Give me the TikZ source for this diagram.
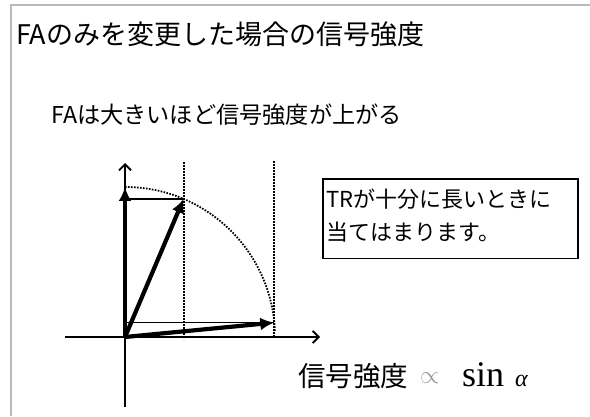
\documentclass[tikz,border=0pt]{standalone}
\usepackage{fontspec}
\setmainfont{Noto Sans CJK JP}
\newfontfamily\serifsin{Liberation Serif}
\usetikzlibrary{positioning,arrows.meta}
\tikzset{
  framebar/.style={line width=1.5pt, gray!55},
  axisline/.style={line width=1.8pt, -{Straight Barb[length=6pt, width=12pt]}},
  vecarrow/.style={line width=4.2pt, -{Latex[length=14pt, width=13pt]}},
  projline/.style={line width=1.6pt},
  guideline/.style={line width=1.8pt, dash pattern=on 1.6pt off 1.4pt},
  titletext/.style={anchor=west, inner sep=0pt, font=\fontsize{27}{30}\selectfont},
  subtext/.style={anchor=west, inner sep=0pt, font=\fontsize{23.2}{27}\selectfont},
  notebox/.style={draw, line width=1.6pt, anchor=north west, minimum width=255pt,
    inner xsep=4pt, inner ysep=10pt, text width=247pt, align=left, font=\fontsize{22}{33}\selectfont},
  formula/.style={anchor=base west, inner sep=0pt}
}

\begin{document}
\begin{tikzpicture}[x=1pt, y=1pt]
      \useasboundingbox (0,0) rectangle (590,416);
      % slide frame
      \draw[framebar] (590,411) -- (11,411) -- (11,0);
      % texts
      \node[titletext] (title) at (16,382) {FAのみを変更した場合の信号強度};
      \node[subtext] (sub) at (51,301) {FAは大きいほど信号強度が上がる};
      \node[notebox] (note) at (322,238) {TRが十分に長いときに\\当てはまります。\rule[-8pt]{0pt}{8pt}};
      \node[formula] (sig) at (298,30) {\fontsize{27.5}{30}\selectfont 信号強度};
      \node[formula, text=gray!80] (prop) at (420,33) {\fontsize{26}{30}\selectfont $\propto$};
      \node[formula] (sinf) at (462,30) {\serifsin\fontsize{36}{40}\selectfont sin};
      \node[formula] (alph) at (515,30) {\serifsin\itshape\fontsize{24}{28}\selectfont α};
      % points
      \coordinate (o) at (125,79);
      \coordinate (ybot) at (125,9);
      \coordinate (ytop) at (125,253);
      \coordinate (xleft) at (65,79);
      \coordinate (xright) at (320,79);
      \coordinate (mtop) at (125,229);
      \coordinate (tipa) at (183.6,217.1);
      \coordinate (tipb) at (274.3,93.4);
      \coordinate (proja) at (125,217.1);
      \coordinate (projb) at (125,93.4);
      % guides
      \draw[guideline] (183.6,254) -- (183.6,77);
      \draw[guideline] (274.3,255) -- (274.3,79);
      \draw[guideline] (mtop) arc[start angle=90, end angle=2, radius=150pt];
      \draw[projline] (proja) -- (tipa);
      \draw[projline] (projb) -- (tipb);
      % axes
      \draw[axisline] (ybot) -- (ytop);
      \draw[axisline] (xleft) -- (xright);
      % magnetization vectors
      \draw[vecarrow] (o) -- (mtop);
      \draw[vecarrow] (o) -- (tipa);
      \draw[vecarrow] (o) -- (tipb);
    \end{tikzpicture}
\end{document}
